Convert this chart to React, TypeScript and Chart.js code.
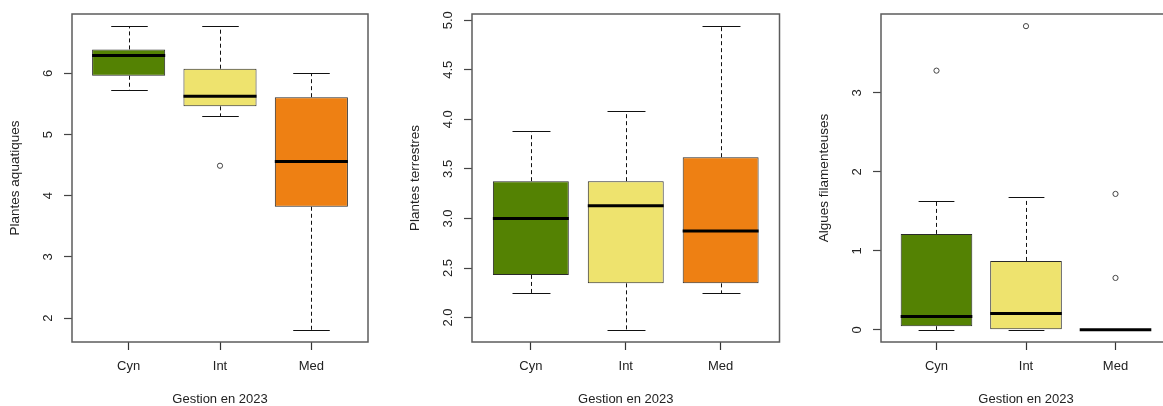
import React, { useEffect, useRef } from 'react';
import { Chart, registerables } from 'chart.js';

Chart.register(...registerables);

// Groups and colours shared by the three panels
const categories = ['Cyn', 'Int', 'Med'];
const boxColors = ['#548203', '#EEE36E', '#EE8013'];
const xAxisTitle = 'Gestion en 2023';

// Plantes aquatiques: five-number summaries per group
const aquaLow = [5.72, 5.3, 1.81];
const aquaQ1 = [5.96, 5.46, 3.82];
const aquaMedian = [6.29, 5.625, 4.56];
const aquaQ3 = [6.39, 6.075, 5.61];
const aquaHigh = [6.77, 6.77, 6.0];
const aquaOutliers = [[], [4.49], []];
const aquaTicks = [2, 3, 4, 5, 6];
const aquaTickLabels = ['2', '3', '4', '5', '6'];

// Plantes terrestres
const terrLow = [2.245, 1.876, 2.245];
const terrQ1 = [2.43, 2.345, 2.345];
const terrMedian = [3.0, 3.128, 2.873];
const terrQ3 = [3.376, 3.376, 3.618];
const terrHigh = [3.88, 4.08, 4.94];
const terrOutliers = [[], [], []];
const terrTicks = [2.0, 2.5, 3.0, 3.5, 4.0, 4.5, 5.0];
const terrTickLabels = ['2.0', '2.5', '3.0', '3.5', '4.0', '4.5', '5.0'];

// Algues filamenteuses
const algLow = [0, 0, 0];
const algQ1 = [0.046, 0, 0];
const algMedian = [0.168, 0.206, 0];
const algQ3 = [1.214, 0.872, 0];
const algHigh = [1.626, 1.676, 0];
const algOutliers = [[3.28], [3.843], [1.72, 0.657]];
const algTicks = [0, 1, 2, 3];
const algTickLabels = ['0', '1', '2', '3'];

const FONT = '"Liberation Sans", Arial, sans-serif';
const CANVAS_H = 406;

type Panel = {
  title: string;
  low: number[];
  q1: number[];
  median: number[];
  q3: number[];
  high: number[];
  outliers: number[][];
  ticks: number[];
  tickLabels: string[];
  left: number;
  width: number;
  axisWidth: number;
  padRight: number;
};

const panels: Panel[] = [
  {
    title: 'Plantes aquatiques',
    low: aquaLow, q1: aquaQ1, median: aquaMedian, q3: aquaQ3, high: aquaHigh,
    outliers: aquaOutliers, ticks: aquaTicks, tickLabels: aquaTickLabels,
    left: 0, width: 388, axisWidth: 72, padRight: 20,
  },
  {
    title: 'Plantes terrestres',
    low: terrLow, q1: terrQ1, median: terrMedian, q3: terrQ3, high: terrHigh,
    outliers: terrOutliers, ticks: terrTicks, tickLabels: terrTickLabels,
    left: 388, width: 394, axisWidth: 84, padRight: 2.5,
  },
  {
    title: 'Algues filamenteuses',
    low: algLow, q1: algQ1, median: algMedian, q3: algQ3, high: algHigh,
    outliers: algOutliers, ticks: algTicks, tickLabels: algTickLabels,
    left: 782, width: 394, axisWidth: 99, padRight: 2,
  },
];

// R-style axis range: data range extended by 4% on each side
function extendedRange(values: number[]): [number, number] {
  const lo = Math.min(...values);
  const hi = Math.max(...values);
  const pad = (hi - lo) * 0.04;
  return [lo - pad, hi + pad];
}

function makeBoxPlugin(p: Panel) {
  return {
    id: 'rBoxplot',
    beforeDatasetsDraw(chart: any) {
      const { ctx } = chart;
      const xs = chart.scales.x;
      const ys = chart.scales.y;
      const capHalf = (xs.getPixelForValue(1.2) - xs.getPixelForValue(1));
      ctx.save();
      ctx.strokeStyle = '#111';
      ctx.lineWidth = 1;
      categories.forEach((_, i) => {
        const cx = Math.round(xs.getPixelForValue(i + 1)) + 0.5;
        const yLow = ys.getPixelForValue(p.low[i]);
        const yQ1 = ys.getPixelForValue(p.q1[i]);
        const yQ3 = ys.getPixelForValue(p.q3[i]);
        const yHigh = ys.getPixelForValue(p.high[i]);
        ctx.setLineDash([4, 3]);
        ctx.beginPath();
        ctx.moveTo(cx, yQ3);
        ctx.lineTo(cx, yHigh);
        ctx.moveTo(cx, yQ1);
        ctx.lineTo(cx, yLow);
        ctx.stroke();
        ctx.setLineDash([]);
        ctx.beginPath();
        ctx.moveTo(cx - capHalf, Math.round(yHigh) + 0.5);
        ctx.lineTo(cx + capHalf, Math.round(yHigh) + 0.5);
        ctx.moveTo(cx - capHalf, Math.round(yLow) + 0.5);
        ctx.lineTo(cx + capHalf, Math.round(yLow) + 0.5);
        ctx.stroke();
      });
      ctx.restore();
    },
    afterDatasetsDraw(chart: any) {
      const { ctx, chartArea } = chart;
      const xs = chart.scales.x;
      const ys = chart.scales.y;
      const boxHalf = (xs.getPixelForValue(1.4) - xs.getPixelForValue(1));
      ctx.save();
      // medians
      ctx.strokeStyle = '#000';
      ctx.lineWidth = 3;
      categories.forEach((_, i) => {
        const cx = xs.getPixelForValue(i + 1);
        const ym = ys.getPixelForValue(p.median[i]);
        ctx.beginPath();
        ctx.moveTo(cx - boxHalf, ym);
        ctx.lineTo(cx + boxHalf, ym);
        ctx.stroke();
      });
      // plot frame
      ctx.strokeStyle = '#5c5c5c';
      ctx.lineWidth = 1.5;
      ctx.strokeRect(chartArea.left, chartArea.top, chartArea.right - chartArea.left, chartArea.bottom - chartArea.top);
      // y tick labels, rotated like the axis title
      ctx.fillStyle = '#222';
      ctx.font = `13px ${FONT}`;
      ctx.textAlign = 'center';
      ctx.textBaseline = 'middle';
      p.ticks.forEach((v, i) => {
        const py = ys.getPixelForValue(v);
        ctx.save();
        ctx.translate(chartArea.left - 24, py);
        ctx.rotate(-Math.PI / 2);
        ctx.fillText(p.tickLabels[i], 0, 0);
        ctx.restore();
      });
      // y axis title
      ctx.font = `13.5px ${FONT}`;
      ctx.save();
      ctx.translate(chartArea.left - 57, (chartArea.top + chartArea.bottom) / 2);
      ctx.rotate(-Math.PI / 2);
      ctx.fillText(p.title, 0, 0);
      ctx.restore();
      // x axis title, centred on the full x range
      ctx.font = `13px ${FONT}`;
      ctx.fillText(xAxisTitle, xs.getPixelForValue(2), 399);
      ctx.restore();
    },
  };
}

function BoxPanel({ p }: { p: Panel }) {
  const ref = useRef<HTMLCanvasElement | null>(null);
  useEffect(() => {
    if (!ref.current) return;
    const allValues = [...p.low, ...p.high, ...p.outliers.flat()];
    const [yMin, yMax] = extendedRange(allValues);
    const outlierPoints = p.outliers.flatMap((vals, i) => vals.map((v) => ({ x: i + 1, y: v })));
    const chart = new Chart(ref.current, {
      type: 'bar',
      data: {
        datasets: [
          {
            type: 'bar',
            data: categories.map((_, i) => ({ x: i + 1, y: [p.q1[i], p.q3[i]] })) as any,
            backgroundColor: boxColors,
            borderColor: '#2a2a2a',
            borderWidth: 1,
            borderSkipped: false,
            barPercentage: 0.8,
            categoryPercentage: 1,
          },
          {
            type: 'scatter',
            data: outlierPoints,
            pointRadius: 2.6,
            pointBorderWidth: 1,
            pointBorderColor: '#444',
            pointBackgroundColor: 'rgba(0,0,0,0)',
          } as any,
        ],
      },
      options: {
        animation: false,
        responsive: false,
        events: [],
        layout: { padding: { top: 14, right: p.padRight, left: 0, bottom: 0 } },
        plugins: { legend: { display: false }, tooltip: { enabled: false } },
        scales: {
          x: {
            type: 'linear',
            min: 0.38,
            max: 3.62,
            offset: false,
            border: { display: false },
            grid: { offset: false, drawOnChartArea: false, drawTicks: true, tickLength: 8, color: '#333', tickWidth: 1.2 },
            afterBuildTicks: (s: any) => { s.ticks = categories.map((_, i) => ({ value: i + 1 })); },
            afterFit: (s: any) => { s.height = CANVAS_H - 342; },
            ticks: {
              color: '#222',
              font: { family: FONT, size: 13 },
              padding: 9,
              maxRotation: 0,
              autoSkip: false,
              callback: (v: any) => categories[Number(v) - 1] ?? '',
            },
          },
          y: {
            type: 'linear',
            min: yMin,
            max: yMax,
            border: { display: false },
            grid: { drawOnChartArea: false, drawTicks: true, tickLength: 8, color: '#444', tickWidth: 1.2 },
            afterBuildTicks: (s: any) => { s.ticks = p.ticks.map((v) => ({ value: v })); },
            afterFit: (s: any) => { s.width = p.axisWidth; },
            ticks: { display: false },
          },
        },
      } as any,
      plugins: [makeBoxPlugin(p)],
    });
    return () => chart.destroy();
  }, [p]);
  return (
    <canvas
      ref={ref}
      width={p.width}
      height={CANVAS_H}
      style={{ position: 'absolute', left: p.left, top: 0, width: p.width, height: CANVAS_H }}
    />
  );
}

export default function App() {
  return (
    <div
      style={{
        position: 'fixed',
        left: 0,
        top: 0,
        width: 1163,
        height: CANVAS_H,
        overflow: 'hidden',
        background: '#fff',
      }}
    >
      {panels.map((p) => (
        <BoxPanel key={p.title} p={p} />
      ))}
    </div>
  );
}
